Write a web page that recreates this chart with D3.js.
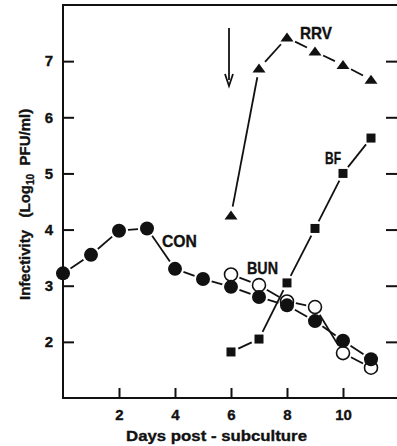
<!DOCTYPE html>
<html>
<head>
<meta charset="utf-8">
<script src="https://cdn.jsdelivr.net/npm/d3@7"></script>
<style>
  html, body { margin: 0; padding: 0; background: #fff; }
  svg { display: block; font-family: "Liberation Sans", Arial, sans-serif; font-weight: bold; }
  svg text { stroke: #111; stroke-width: 0.35px; }
</style>
</head>
<body>
<div id="chart"></div>
<script>
// Infectivity curves
const conDays = [0, 1, 2, 3, 4, 5, 6, 7, 8, 9, 10, 11];
const conValues = [3.22, 3.55, 3.98, 4.02, 3.3, 3.12, 2.98, 2.8, 2.65, 2.37, 2.02, 1.69];
const bunDays = [6, 7, 8, 9, 10, 11];
const bunValues = [3.2, 3.01, 2.72, 2.62, 1.8, 1.54];
const rrvDays = [6, 7, 8, 9, 10, 11];
const rrvValues = [4.25, 6.87, 7.42, 7.17, 6.93, 6.67];
const bfDays = [6, 7, 8, 9, 10, 11];
const bfValues = [1.82, 2.05, 3.05, 4.02, 5.0, 5.63];
const xTicks = [2, 4, 6, 8, 10];
const yTicks = [2, 3, 4, 5, 6, 7];

const width = 397, height = 446;
const svg = d3.select('#chart').append('svg')
  .attr('width', width)
  .attr('height', height);

const x = d3.scaleLinear().domain([0, 12]).range([63, 399]);
const y = d3.scaleLinear().domain([1, 8]).range([398, 5]);

// frame
svg.append('rect')
  .attr('x', x(0)).attr('y', y(8))
  .attr('width', x(12) - x(0)).attr('height', y(1) - y(8))
  .attr('fill', 'none').attr('stroke', '#111').attr('stroke-width', 2);

// inward ticks
const xAxis = svg.append('g').attr('transform', `translate(0,${y(1)})`)
  .call(d3.axisBottom(x).tickValues(xTicks).tickSize(-10).tickPadding(6).tickFormat(d3.format('d')));
const yAxis = svg.append('g').attr('transform', `translate(${x(0)},0)`)
  .call(d3.axisLeft(y).tickValues(yTicks).tickSize(-11).tickPadding(10).tickFormat(d3.format('d')));
const yAxisR = svg.append('g').attr('transform', `translate(${x(12) - 2},0)`)
  .call(d3.axisRight(y).tickValues(yTicks).tickSize(-11).tickFormat(''));
[xAxis, yAxis, yAxisR].forEach(a => {
  a.select('.domain').remove();
  a.selectAll('line').attr('stroke', '#111').attr('stroke-width', 2);
  a.selectAll('text').attr('fill', '#111').attr('font-size', 15)
    .attr('font-family', '"Liberation Sans", Arial, sans-serif').attr('font-weight', 'bold');
});
xAxis.selectAll('text').attr('dy', '1.05em');

// segment joining points, trimmed so it stops short of markers
function drawSeries(days, values, gap) {
  const pts = days.map((d, i) => [x(d), y(values[i])]);
  const segs = d3.pairs(pts);
  svg.append('g').selectAll('line').data(segs).join('line')
    .attr('x1', s => trim(s[0], s[1], gap)[0])
    .attr('y1', s => trim(s[0], s[1], gap)[1])
    .attr('x2', s => trim(s[1], s[0], gap)[0])
    .attr('y2', s => trim(s[1], s[0], gap)[1])
    .attr('stroke', '#111').attr('stroke-width', 1.8);
  return pts;
}
function trim(a, b, g) {
  const dx = b[0] - a[0], dy = b[1] - a[1];
  const len = Math.hypot(dx, dy);
  return [a[0] + dx / len * g, a[1] + dy / len * g];
}

const conPts = drawSeries(conDays, conValues, 9);
const bunPts = drawSeries(bunDays, bunValues, 9);
const rrvPts = drawSeries(rrvDays, rrvValues, 9);
const bfPts = drawSeries(bfDays, bfValues, 8);

svg.append('g').selectAll('circle').data(bunPts).join('circle')
  .attr('cx', d => d[0]).attr('cy', d => d[1]).attr('r', 6.5)
  .attr('fill', '#fff').attr('stroke', '#111').attr('stroke-width', 1.6);
svg.append('g').selectAll('circle').data(conPts).join('circle')
  .attr('cx', d => d[0]).attr('cy', d => d[1]).attr('r', 7)
  .attr('fill', '#111');
svg.append('g').selectAll('rect').data(bfPts).join('rect')
  .attr('x', d => d[0] - 4.5).attr('y', d => d[1] - 4.5)
  .attr('width', 9).attr('height', 9).attr('fill', '#111');
svg.append('g').selectAll('path').data(rrvPts).join('path')
  .attr('d', d => `M${d[0]},${d[1] - 5}L${d[0] + 6.5},${d[1] + 4}L${d[0] - 6.5},${d[1] + 4}Z`)
  .attr('fill', '#111');

// arrow at day 6
const ax = x(6) - 2;
svg.append('line').attr('x1', ax).attr('x2', ax).attr('y1', 28).attr('y2', 80)
  .attr('stroke', '#111').attr('stroke-width', 1.8);
svg.append('path').attr('d', `M${ax - 4},${74}L${ax},${86}L${ax + 4},${74}`)
  .attr('fill', 'none').attr('stroke', '#111').attr('stroke-width', 1.8);

// series labels
const labels = [
  { t: 'RRV', x: 300, y: 39, w: 32 },
  { t: 'BF', x: 325, y: 164, w: 16 },
  { t: 'BUN', x: 247, y: 274, w: 31 },
  { t: 'CON', x: 162, y: 247, w: 35 }
];
svg.append('g').selectAll('text').data(labels).join('text')
  .attr('x', d => d.x).attr('y', d => d.y).text(d => d.t)
  .attr('textLength', d => d.w).attr('lengthAdjust', 'spacingAndGlyphs')
  .attr('font-size', 16.5).attr('fill', '#111');

// axis titles
svg.append('text').attr('x', 126).attr('y', 441)
  .attr('textLength', 181).attr('lengthAdjust', 'spacingAndGlyphs')
  .attr('font-size', 15).attr('fill', '#111').text('Days post - subculture');
const yt = svg.append('text')
  .attr('transform', 'translate(30,300) rotate(-90)')
  .attr('font-size', 15).attr('fill', '#111')
  .style('white-space', 'pre');
yt.append('tspan').text('Infectivity   (Log');
yt.append('tspan').attr('font-size', 10).attr('dy', 4).text('10');
yt.append('tspan').attr('dy', -4).text('  PFU/ml)');
</script>
</body>
</html>
